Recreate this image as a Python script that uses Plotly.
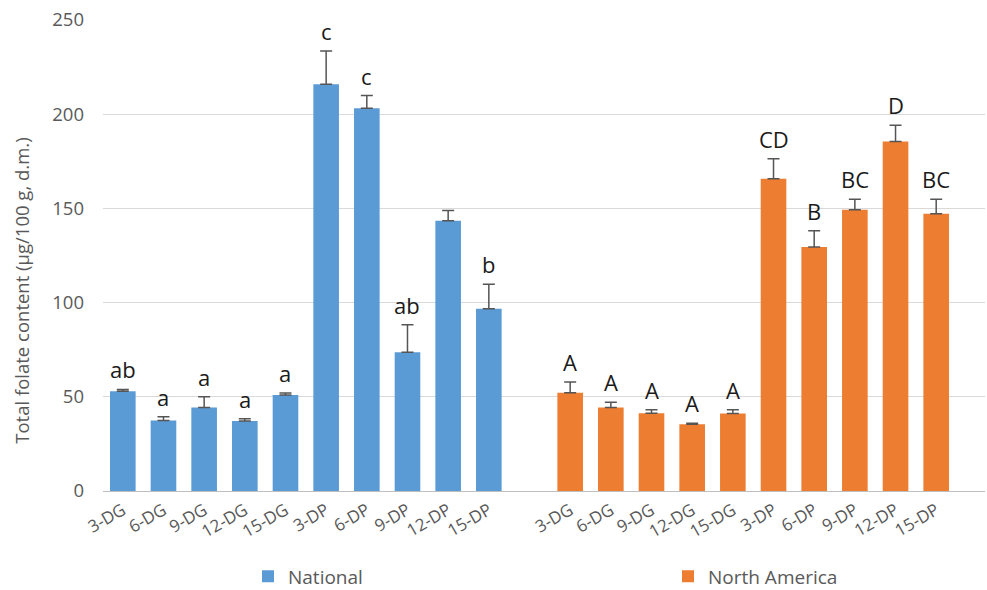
import plotly.graph_objects as go

# Sample codes (same set for both origins)
samples = ["3-DG", "6-DG", "9-DG", "12-DG", "15-DG", "3-DP", "6-DP", "9-DP", "12-DP", "15-DP"]

# Total folate content (µg/100 g, d.m.) and standard deviations
national = [52.9, 37.4, 44.3, 37.2, 51.0, 215.9, 203.2, 73.6, 143.4, 96.8]
national_sd = [1.0, 2.0, 5.7, 1.1, 1.0, 17.7, 6.7, 14.7, 5.5, 13.0]
national_letters = ["ab", "a", "a", "a", "a", "c", "c", "ab", "", "b"]

north_america = [52.1, 44.3, 41.3, 35.4, 41.1, 165.7, 129.5, 149.3, 185.5, 147.1]
north_america_sd = [5.8, 2.8, 1.8, 0.6, 2.0, 10.6, 8.6, 5.6, 8.7, 7.8]
north_america_letters = ["A", "A", "A", "A", "A", "CD", "B", "BC", "D", "BC"]

y_title = "Total folate content (µg/100 g, d.m.)"

BLUE = "#5B9BD5"
ORANGE = "#ED7D31"
GREY_TEXT = "#595959"
FONT = "Open Sans"

# one empty slot separates the two groups on the category axis
x_nat = [i for i in range(len(samples))]
x_na = [i + len(samples) + 1 for i in range(len(samples))]

fig = go.Figure()

def add_group(xs, ys, sd, color, name, legend):
    fig.add_trace(go.Bar(
        x=xs, y=ys, name=name, legend=legend, showlegend=True,
        marker=dict(color=color, line=dict(width=0)),
        width=0.63,
        error_y=dict(type="data", array=sd, arrayminus=[0] * len(sd), symmetric=False,
                     color="#555555", thickness=1.5, width=6),
    ))

add_group(x_nat, national, national_sd, BLUE, "National", "legend")
add_group(x_na, north_america, north_america_sd, ORANGE, "North America", "legend2")

annotations = []
for xs, ys, sd, letters in [(x_nat, national, national_sd, national_letters),
                            (x_na, north_america, north_america_sd, north_america_letters)]:
    for x, y, s, t in zip(xs, ys, sd, letters):
        if not t:
            continue
        annotations.append(dict(
            x=x, y=y + s, text=t, showarrow=False, xanchor="center", yanchor="bottom",
            yshift=3, font=dict(family=FONT, size=22, color="#1a1a1a"),
        ))

# vertical axis title, placed as a rotated annotation
annotations.append(dict(
    text=y_title, textangle=-90, showarrow=False,
    xref="paper", yref="paper", x=(22 - 103) / 882, y=(491.5 - 291) / 471.5,
    xanchor="center", yanchor="middle",
    font=dict(family=FONT, size=18.5, color=GREY_TEXT),
))

legend_common = dict(orientation="h", yanchor="middle", xanchor="left", y=(491.5 - 577) / 471.5,
                     bgcolor="rgba(0,0,0,0)", font=dict(family=FONT, size=19, color=GREY_TEXT),
                     itemwidth=30)

fig.update_layout(
    width=987, height=590,
    margin=dict(l=103, r=2, t=20, b=98.5, autoexpand=False),
    paper_bgcolor="white", plot_bgcolor="white",
    font=dict(family=FONT, color=GREY_TEXT),
    barmode="overlay",
    showlegend=True,
    annotations=annotations,
    legend=dict(x=(248 - 103) / 882, **legend_common),
    legend2=dict(x=(668 - 103) / 882, **legend_common),
    xaxis=dict(
        range=[-0.487, 21.2], tickmode="array", tickvals=x_nat + x_na, ticktext=samples + samples,
        tickangle=-30, tickfont=dict(family=FONT, size=17, color=GREY_TEXT),
        showgrid=False, zeroline=False, showline=True, linecolor="#BFBFBF", linewidth=1,
        ticks="", ticklabelstandoff=2, automargin=False,
    ),
    yaxis=dict(
        range=[0, 250], tickvals=[0, 50, 100, 150, 200, 250],
        tickfont=dict(family=FONT, size=18.5, color=GREY_TEXT),
        showgrid=True, gridcolor="#D9D9D9", gridwidth=1, zeroline=False,
        ticks="", ticklabelstandoff=18, automargin=False,
    ),
)

fig.write_html("out.html")
